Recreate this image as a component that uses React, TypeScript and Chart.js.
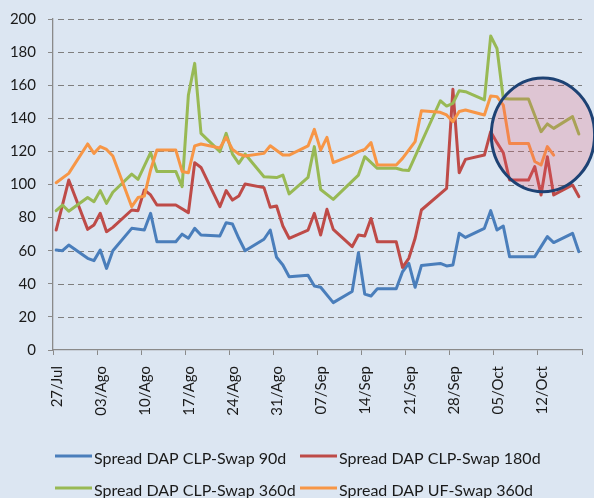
import React, { useEffect, useRef } from "react";
import { Chart, registerables } from "chart.js";

Chart.register(...registerables);

// Week tick labels (every 7 days from 27/Jul)
const tickLabels = ["27/Jul", "03/Ago", "10/Ago", "17/Ago", "24/Ago", "31/Ago", "07/Sep", "14/Sep", "21/Sep", "28/Sep", "05/Oct", "12/Oct"];

const seriesNames = [
  "Spread DAP CLP-Swap 90d",
  "Spread DAP CLP-Swap 180d",
  "Spread DAP CLP-Swap 360d",
  "Spread DAP UF-Swap 360d",
];
const seriesColors = ["#4A7EBB", "#BE4B48", "#98B954", "#F79646"];

// Day offsets from 27/Jul and values (bp)
const days90 = [0, 1, 2, 5, 6, 7, 8, 9, 12, 14, 15, 16, 19, 20, 21, 22, 23, 26, 27, 28, 29, 30, 33, 34, 35, 36, 37, 40, 41, 42, 44, 47, 48, 49, 50, 51, 54, 55, 56, 57, 58, 61, 62, 63, 64, 65, 68, 69, 70, 71, 72, 76, 78, 79, 82, 83];
const values90 = [60.4, 60, 63.4, 55.4, 54, 60.4, 49.3, 60, 73.5, 72.5, 82.6, 65.4, 65.4, 70, 67.5, 73.5, 69.5, 68.9, 76.9, 76.1, 67.5, 60, 66.9, 72.5, 56, 51.4, 44.3, 45.1, 38.7, 37.9, 28.6, 35.3, 58.8, 33.8, 32.6, 37, 37, 47.3, 52.3, 37.9, 51, 52.3, 50.8, 51.4, 70.5, 68, 73.5, 84.2, 72.5, 74.9, 56.4, 56.4, 68.5, 64.9, 70.5, 59.4];

const days180 = [0, 2, 5, 6, 7, 8, 9, 12, 13, 14, 15, 16, 19, 21, 22, 23, 26, 27, 28, 29, 30, 33, 34, 35, 36, 37, 40, 41, 42, 43, 44, 47, 48, 49, 50, 51, 54, 55, 56, 57, 58, 62, 63, 64, 65, 68, 69, 70, 71, 72, 75, 76, 77, 78, 79, 82, 83];
const values180 = [72.5, 102.7, 72.9, 75.5, 82.6, 71.5, 74.1, 84.6, 84.2, 96.7, 93.7, 87.6, 87.6, 83, 113.2, 110.3, 86.6, 96.3, 90.6, 93, 100.3, 98.1, 86.2, 87, 74.9, 67.5, 72.5, 82.6, 69.5, 85, 72.9, 62.4, 69.5, 68.9, 79.5, 65.4, 65.4, 49.9, 55.4, 67.5, 84.6, 97.6, 157.5, 107.1, 115.2, 117.8, 131.9, 125.3, 119.2, 102.7, 102.7, 110.8, 93.7, 116.8, 93.7, 99.7, 92.7];

const days360 = [0, 1, 2, 5, 6, 7, 8, 9, 12, 13, 15, 16, 19, 20, 21, 22, 23, 26, 27, 28, 29, 30, 33, 35, 36, 37, 40, 41, 42, 44, 48, 49, 51, 54, 55, 56, 61, 62, 63, 64, 65, 68, 69, 70, 71, 72, 75, 77, 78, 79, 82, 83];
const values360 = [84.2, 87.6, 83.8, 92.1, 89.6, 96.3, 88.6, 95.3, 106.3, 103.1, 119.2, 107.9, 107.9, 98.7, 154.1, 173.2, 130.9, 119.9, 130.9, 118.4, 112.8, 118.4, 104.7, 104.2, 105.7, 94.3, 104.3, 122.9, 97, 91, 105.7, 116.8, 109.8, 109.8, 108.8, 108.5, 150.6, 147.4, 149, 156.7, 156.1, 151.1, 189.7, 182.2, 152, 151.7, 151.7, 131.9, 136.6, 133.9, 141, 130.5];

const daysUF360 = [0, 2, 5, 6, 7, 8, 9, 12, 13, 14, 15, 16, 19, 20, 21, 22, 23, 26, 27, 28, 29, 30, 33, 34, 36, 37, 40, 41, 42, 43, 44, 47, 48, 49, 50, 51, 54, 55, 57, 58, 61, 62, 63, 64, 65, 68, 69, 70, 71, 72, 75, 76, 77, 78, 79];
const valuesUF360 = [101.1, 106.7, 124.5, 118.8, 122.9, 121.2, 117.2, 86.6, 92.1, 93, 108.8, 120.8, 120.8, 107.9, 107.1, 123.3, 124.5, 122, 128.5, 121.2, 118.4, 117.2, 118.8, 123.4, 117.8, 117.8, 123.3, 133.3, 120.8, 128.5, 113.2, 117.8, 119.9, 121.2, 125.3, 111.8, 111.8, 115.8, 125.9, 144.6, 143.6, 142, 137.9, 144.1, 145, 142, 153.5, 153.1, 148, 124.8, 124.8, 113.9, 111.8, 122.9, 117.8];

// Highlight ellipse (in data units)
const highlightCenterDay = 77.8;
const highlightCenterValue = 130;
const highlightRadiusDays = 8.2;
const highlightRadiusValue = 34.4;

const FONT = "Lato, 'Open Sans', sans-serif";
const TEXT = "#1a1a1a";
const GRID = "#8a8a8a";
const DASH_GRID = "#7f7f7f";

export default function App() {
  const ref = useRef<HTMLCanvasElement>(null);

  useEffect(() => {
    if (!ref.current) return;
    const series = [
      { days: days90, values: values90 },
      { days: days180, values: values180 },
      { days: days360, values: values360 },
      { days: daysUF360, values: valuesUF360 },
    ];

    const dashedGridPlugin = {
      id: "dashedGrid",
      beforeDatasetsDraw(chart: any) {
        const { ctx, chartArea, scales } = chart;
        const y = scales.y;
        ctx.save();
        ctx.strokeStyle = DASH_GRID;
        ctx.lineWidth = 1.2;
        ctx.setLineDash([6, 4]);
        ctx.lineDashOffset = -4;
        y.ticks.forEach((t: any) => {
          if (t.value === 0) return;
          const py = Math.round(y.getPixelForValue(t.value)) + 0.5;
          ctx.beginPath();
          ctx.moveTo(chartArea.left + 1, py);
          ctx.lineTo(chartArea.right, py);
          ctx.stroke();
        });
        ctx.restore();
      },
    };

    const highlightPlugin = {
      id: "highlight",
      afterDatasetsDraw(chart: any) {
        const { ctx, scales } = chart;
        const cx = scales.x.getPixelForValue(highlightCenterDay);
        const cy = scales.y.getPixelForValue(highlightCenterValue);
        const rx = scales.x.getPixelForValue(highlightCenterDay + highlightRadiusDays) - cx;
        const ry = cy - scales.y.getPixelForValue(highlightCenterValue + highlightRadiusValue);
        ctx.save();
        ctx.beginPath();
        ctx.ellipse(cx, cy, rx, ry, 0, 0, Math.PI * 2);
        ctx.fillStyle = "rgba(230, 80, 100, 0.22)";
        ctx.fill();
        ctx.lineWidth = 3;
        ctx.strokeStyle = "#1d4274";
        ctx.stroke();
        ctx.restore();
      },
    };

    const legendPlugin = {
      id: "gridLegend",
      afterDraw(chart: any) {
        const ctx = chart.ctx;
        ctx.save();
        ctx.font = `16px ${FONT}`;
        ctx.textBaseline = "alphabetic";
        ctx.textAlign = "left";
        chart.data.datasets.forEach((ds: any, i: number) => {
          const col = i % 2;
          const row = Math.floor(i / 2);
          const lx = col === 0 ? 55 : 300;
          const ly = row === 0 ? 456 : 488;
          ctx.beginPath();
          ctx.moveTo(lx, ly);
          ctx.lineTo(lx + 37, ly);
          ctx.lineWidth = 3;
          ctx.strokeStyle = ds.borderColor;
          ctx.stroke();
          ctx.fillStyle = TEXT;
          ctx.fillText(ds.label, lx + 39, ly + 7.5);
        });
        ctx.restore();
      },
    };

    const chart = new Chart(ref.current, {
      type: "line",
      data: {
        datasets: series.map((s, i) => ({
          label: seriesNames[i],
          data: s.days.map((d, j) => ({ x: d + 0.5, y: s.values[j] })),
          borderColor: seriesColors[i],
          backgroundColor: seriesColors[i],
          borderWidth: 3,
          pointRadius: 0,
          tension: 0,
          fill: false,
          order: 3 - i,
          borderJoinStyle: "round",
          borderCapStyle: "round",
        })),
      },
      options: {
        animation: false,
        responsive: false,
        layout: { padding: { top: 19, right: 12, left: 0, bottom: 0 } },
        plugins: {
          legend: { display: false },
          tooltip: { enabled: false },
        },
        scales: {
          x: {
            type: "linear",
            min: 0,
            max: 84,
            afterFit: (s: any) => {
              s.height = 148;
              s.paddingLeft = 0;
              s.paddingRight = 0;
            },
            ticks: {
              stepSize: 7,
              autoSkip: false,
              maxRotation: 90,
              minRotation: 90,
              padding: 11,
              labelOffset: 4,
              color: TEXT,
              font: { family: FONT, size: 15 },
              callback: (v: any) => tickLabels[Math.round(Number(v) / 7)] ?? "",
            },
            grid: {
              drawOnChartArea: false,
              drawTicks: true,
              tickLength: 5,
              color: GRID,
            },
            border: { display: true, color: GRID, width: 1.3 },
          },
          y: {
            min: 0,
            max: 200,
            afterFit: (s: any) => {
              s.width = 53;
              s.paddingTop = 0;
              s.paddingBottom = 0;
            },
            ticks: {
              stepSize: 20,
              padding: 12,
              color: TEXT,
              font: { family: FONT, size: 15 },
            },
            grid: {
              color: GRID,
              lineWidth: 1,
              drawOnChartArea: false,
              drawTicks: true,
              tickLength: 5,
            },
            border: { display: true, color: GRID, width: 1.3 },
          },
        },
      },
      plugins: [dashedGridPlugin, highlightPlugin, legendPlugin],
    } as any);

    return () => chart.destroy();
  }, []);

  return (
    <div
      style={{
        position: "absolute",
        left: 0,
        top: 0,
        width: 594,
        height: 498,
        background: "#dce6f2",
        overflow: "hidden",
      }}
    >
      <canvas ref={ref} width={594} height={498} style={{ display: "block" }} />
    </div>
  );
}
